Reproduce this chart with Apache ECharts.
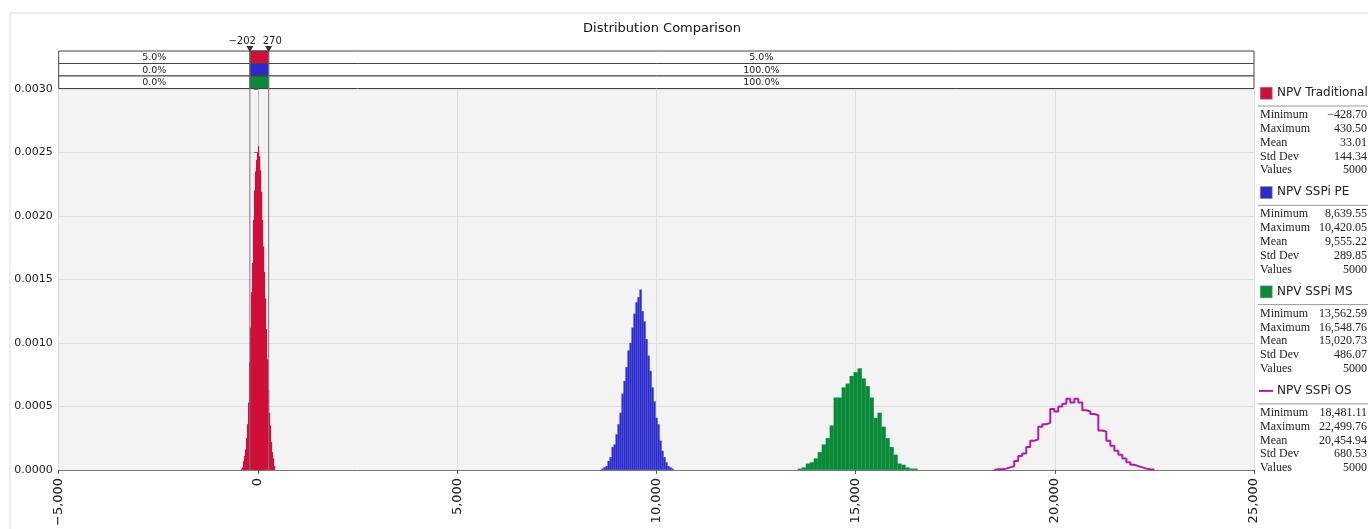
<!DOCTYPE html>
<html>
<head>
<meta charset="utf-8">
<script src="https://cdn.jsdelivr.net/npm/echarts@6/dist/echarts.min.js"></script>
<style>html,body{margin:0;padding:0;background:#fff}#c{width:1368px;height:529px}</style>
</head>
<body>
<div id="c"></div>
<script>
// ---------- data ----------
const titleText = 'Distribution Comparison';
const seriesNames = ['NPV Traditional', 'NPV SSPi PE', 'NPV SSPi MS', 'NPV SSPi OS'];

// histogram bins: first bin start, bin width, densities
const redStart = -425, redWidth = 25;
const redDensity = [0.00001,0.00002,0.00007,0.00011,0.00016,0.00025,0.00036,0.00053,0.00085,0.00112,
  0.00140,0.00163,0.00197,0.00220,0.00235,0.00244,0.00250,0.00255,0.00247,0.00236,
  0.00219,0.00197,0.00176,0.00156,0.00135,0.00111,0.00087,0.00063,0.00045,0.00035,
  0.00022,0.00014,0.00009,0.00003];
const blueStart = 8625, blueWidth = 50;
const blueDensity = [0.00001,0.00002,0.00003,0.00007,0.00010,0.00018,0.00020,0.00028,0.00036,0.00045,
  0.00060,0.00070,0.00081,0.00094,0.00100,0.00112,0.00123,0.00132,0.00136,0.00142,
  0.00125,0.00117,0.00103,0.00090,0.00078,0.00065,0.00054,0.00041,0.00036,0.00023,
  0.00015,0.00010,0.00006,0.00003,0.00002,0.00001];
const greenStart = 13550, greenWidth = 100;
const greenDensity = [0.00001,0.00002,0.00005,0.00006,0.00009,0.00014,0.00020,0.00025,0.00035,0.00057,
  0.00057,0.00065,0.00068,0.00074,0.00077,0.00080,0.00072,0.00066,0.00057,0.00041,
  0.00045,0.00034,0.00025,0.00018,0.00012,0.00005,0.00004,0.00002,0.00001,0.00001];
const purpleStart = 18480, purpleWidth = 100.5;
const purpleDensity = [0.000005,0.000005,0.00001,0.00002,0.00003,0.00007,0.00011,0.00013,0.00018,0.00023,
  0.00024,0.00034,0.00036,0.00037,0.00048,0.00046,0.00050,0.00052,0.00056,0.00053,
  0.00056,0.00053,0.00047,0.00046,0.00044,0.00043,0.00031,0.00030,0.00023,0.00019,
  0.00015,0.00012,0.00009,0.00006,0.00004,0.00003,0.00002,0.00001,0.000005,0.000003];

// axis
const xMin = -5000, xMax = 25000, xInterval = 5000;
const yMin = 0, yMax = 0.003, yInterval = 0.0005;

// delimiters and band percentages
const cutLow = -202, cutHigh = 270;
const cutLabels = ['\u2212202', '270'];
const bandLeft = ['5.0%', '0.0%', '0.0%'];
const bandRight = ['5.0%', '100.0%', '100.0%'];

// statistics panel
const statNames = ['Minimum', 'Maximum', 'Mean', 'Std Dev', 'Values'];
const statsTraditional = ['\u2212428.70', '430.50', '33.01', '144.34', '5000'];
const statsPE = ['8,639.55', '10,420.05', '9,555.22', '289.85', '5000'];
const statsMS = ['13,562.59', '16,548.76', '15,020.73', '486.07', '5000'];
const statsOS = ['18,481.11', '22,499.76', '20,454.94', '680.53', '5000'];

// ---------- styles ----------
const colors = ['#CF0F3A', '#2B2BC9', '#0A8A38', '#B41AA8'];
const strokes = ['none', 'rgba(120,120,255,0.35)', 'rgba(90,200,120,0.3)'];
const gridLeft = 58.7, gridRight = 114, gridTop = 89, gridBottom = 58;

function bins(start, width, dens) {
  return dens.map((d, i) => [start + i * width, start + (i + 1) * width, d]);
}
function stepPoints(start, width, dens) {
  const pts = [[start, 0]];
  dens.forEach((d, i) => pts.push([start + i * width, d]));
  pts.push([start + dens.length * width, 0]);
  return pts;
}
function histSeries(name, data, color, stroke) {
  return {
    name, type: 'custom', data, encode: { x: [0, 1], y: 2 }, z: 3,
    renderItem(params, api) {
      const p0 = api.coord([api.value(0), api.value(2)]);
      const p1 = api.coord([api.value(1), 0]);
      return { type: 'rect', shape: { x: p0[0], y: p0[1], width: p1[0] - p0[0] + 0.3, height: p1[1] - p0[1] },
        style: { fill: color, stroke: stroke, lineWidth: 0.5 } };
    }
  };
}

const chart = echarts.init(document.getElementById('c'), null, { renderer: 'canvas' });

const bandSeries = {
  type: 'custom', clip: false, silent: true, z: 5,
  data: bandLeft.map((t, i) => [xMin, yMax, i]),
  encode: { x: 0, y: 1 },
  renderItem(params, api) {
    const i = params.dataIndex;
    const rowH = 12.5;
    const topLeft = api.coord([xMin, yMax]);
    const right = api.coord([xMax, yMax])[0];
    const lo = api.coord([cutLow, yMax])[0];
    const hi = api.coord([cutHigh, yMax])[0];
    const y = topLeft[1] - 38 + i * rowH;
    const f = { fontSize: 9.5, fontFamily: 'DejaVu Sans', fill: '#222', verticalAlign: 'middle', align: 'center' };
    return { type: 'group', children: [
      { type: 'rect', shape: { x: topLeft[0], y, width: right - topLeft[0], height: rowH }, style: { fill: '#fff', stroke: '#444', lineWidth: 1 } },
      { type: 'rect', shape: { x: lo, y, width: hi - lo, height: rowH }, style: { fill: colors[i], stroke: '#444', lineWidth: 1 } },
      { type: 'text', style: Object.assign({ x: (topLeft[0] + lo) / 2, y: y + rowH / 2 + 0.5, text: bandLeft[i] }, f) },
      { type: 'text', style: Object.assign({ x: (hi + right) / 2, y: y + rowH / 2 + 0.5, text: bandRight[i] }, f) }
    ] };
  }
};

const cutSeries = {
  type: 'custom', clip: false, silent: true, z: 6,
  data: [[cutLow, 0, 0], [cutHigh, 0, 1]],
  encode: { x: 0, y: 1 },
  renderItem(params, api) {
    const i = params.dataIndex;
    const base = api.coord([api.value(0), 0]);
    const top = api.coord([api.value(0), yMax]);
    const yTop = top[1] - 38;
    const x = base[0];
    return { type: 'group', children: [
      { type: 'line', shape: { x1: x, y1: base[1], x2: x, y2: yTop }, style: { stroke: '#777', lineWidth: 1 } },
      { type: 'polygon', shape: { points: [[x - 3.5, yTop - 5], [x + 3.5, yTop - 5], [x, yTop + 1]] }, style: { fill: '#333' } },
      { type: 'text', style: { x: i === 0 ? x + 6 : x - 6, y: yTop - 10, text: cutLabels[i], align: i === 0 ? 'right' : 'left', verticalAlign: 'middle', fontSize: 10, fontFamily: 'DejaVu Sans', fill: '#222' } }
    ] };
  }
};

// stats panel graphics
const allStats = [statsTraditional, statsPE, statsMS, statsOS];
const panel = [];
allStats.forEach((st, k) => {
  const y0 = 93 + k * 99.3;
  if (k < 3) {
    panel.push({ type: 'rect', left: 1260, top: y0 - 6, shape: { width: 12, height: 12 }, style: { fill: colors[k], stroke: '#888', lineWidth: 0.5 } });
  } else {
    panel.push({ type: 'line', shape: { x1: 1259, y1: y0, x2: 1273, y2: y0 }, style: { stroke: colors[k], lineWidth: 2 } });
  }
  panel.push({ type: 'text', x: 1277, y: y0, style: { text: seriesNames[k], fontSize: 12, fontFamily: 'DejaVu Sans', fill: '#222', verticalAlign: 'middle' } });
  panel.push({ type: 'line', shape: { x1: 1258, y1: y0 + 13, x2: 1368, y2: y0 + 13 }, style: { stroke: '#999', lineWidth: 1 } });
  statNames.forEach((nm, r) => {
    const yy = y0 + 22 + r * 13.8;
    panel.push({ type: 'text', x: 1260, y: yy, style: { text: nm, fontSize: 12, fontFamily: 'Liberation Serif', fill: '#222', verticalAlign: 'middle' } });
    panel.push({ type: 'text', x: 1367, y: yy, style: { text: st[r], fontSize: 12, fontFamily: 'Liberation Serif', fill: '#222', verticalAlign: 'middle', align: 'right' } });
  });
});

const option = {
  animation: false,
  backgroundColor: '#fff',
  title: { text: titleText, left: 657, top: 17, textAlign: 'center',
    textStyle: { fontSize: 13, fontWeight: 'normal', fontFamily: 'DejaVu Sans', color: '#111' } },
  grid: { left: gridLeft, right: gridRight, top: gridTop, bottom: gridBottom, show: true, backgroundColor: '#F3F3F3', borderWidth: 0 },
  xAxis: {
    type: 'value', min: xMin, max: xMax, interval: xInterval,
    axisLine: { show: true, lineStyle: { color: '#777' } },
    axisTick: { show: true, length: 4, lineStyle: { color: '#555' } },
    splitLine: { show: true, lineStyle: { color: '#DEDEDE' } },
    axisLabel: { rotate: 90, fontSize: 13, fontFamily: 'DejaVu Sans', color: '#222', margin: 8,
      formatter: v => (v < 0 ? '\u2212' : '') + Math.abs(v).toLocaleString('en-US') }
  },
  yAxis: {
    type: 'value', min: yMin, max: yMax, interval: yInterval,
    axisLine: { show: true, lineStyle: { color: '#BBB' } },
    axisTick: { show: true, length: 4, lineStyle: { color: '#777' } },
    splitLine: { show: true, lineStyle: { color: '#DEDEDE' } },
    axisLabel: { fontSize: 11, fontFamily: 'DejaVu Sans', color: '#222', margin: 6, formatter: v => v.toFixed(4) }
  },
  graphic: [
    { type: 'rect', shape: { x: 10, y: 13, width: 1400, height: 600 }, style: { fill: 'none', stroke: '#DDDDDD', lineWidth: 1 }, z: -10 }
  ].concat(panel),
  series: [
    histSeries(seriesNames[0], bins(redStart, redWidth, redDensity), colors[0], strokes[0]),
    histSeries(seriesNames[1], bins(blueStart, blueWidth, blueDensity), colors[1], strokes[1]),
    histSeries(seriesNames[2], bins(greenStart, greenWidth, greenDensity), colors[2], strokes[2]),
    { name: seriesNames[3], type: 'line', step: 'end', showSymbol: false, z: 4,
      data: stepPoints(purpleStart, purpleWidth, purpleDensity),
      lineStyle: { color: colors[3], width: 2 } },
    bandSeries,
    cutSeries
  ]
};
chart.setOption(option);
</script>
</body>
</html>
